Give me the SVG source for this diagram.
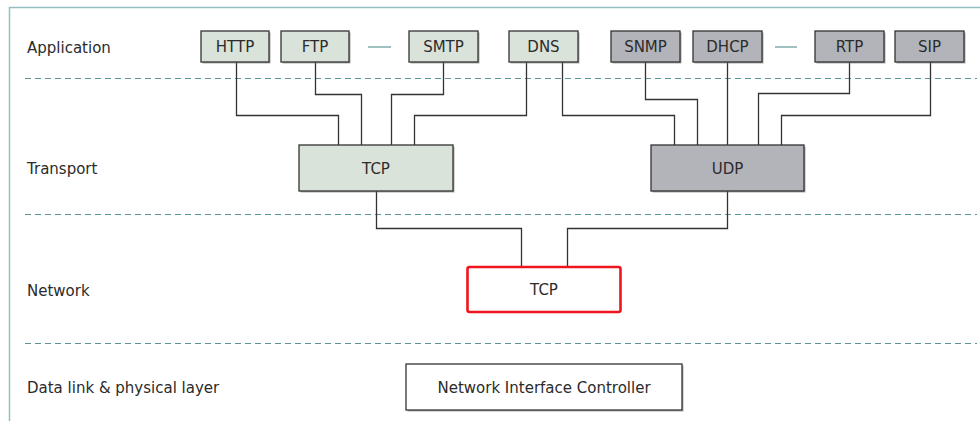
<svg xmlns="http://www.w3.org/2000/svg" width="980" height="421" viewBox="0 0 980 421">
<defs>
<style>
.lbl{font-family:"DejaVu Sans","Liberation Sans",sans-serif;font-size:15px;fill:#2b2b2b}
.bt{font-family:"DejaVu Sans","Liberation Sans",sans-serif;font-size:15px;fill:#2b2b2b;text-anchor:middle}
.g rect.b{fill:#dae3da;stroke:#333;stroke-width:1.3}
.y rect.b{fill:#b3b4ba;stroke:#333;stroke-width:1.3}
.w rect.b{fill:#fff;stroke:#333;stroke-width:1.3}
rect.s{fill:#777;opacity:0.6}
.sep{stroke:#5f9494;stroke-width:1.2;stroke-dasharray:6 4;fill:none}
.c path{stroke:#333;stroke-width:1.3;fill:none}
.dash{stroke:#6f9e9e;stroke-width:1.3}
</style>
</defs>
<rect width="980" height="421" fill="#fff"/>
<path d="M9.5 421 V7.5 H980" stroke="#94bfc0" stroke-width="1.5" fill="none"/>
<g id="separators">
<line class="sep" x1="25" y1="78.5" x2="977" y2="78.5"/>
<line class="sep" x1="25" y1="214.5" x2="977" y2="214.5"/>
<line class="sep" x1="25" y1="343.5" x2="977" y2="343.5"/>
</g>
<g id="layer-labels">
<text class="lbl" x="27" y="52.5">Application</text>
<text class="lbl" x="27" y="174">Transport</text>
<text class="lbl" x="27" y="296">Network</text>
<text class="lbl" x="27" y="393">Data link &amp; physical layer</text>
</g>
<g id="connectors" class="c">
<path d="M236.5 62 V115.5 H338.5 V145"/>
<path d="M315.5 62 V94.5 H361.5 V145"/>
<path d="M443.5 62 V94.5 H391.5 V145"/>
<path d="M526.5 62 V115.5 H414.5 V145"/>
<path d="M562.5 62 V115.5 H674.5 V145"/>
<path d="M645.5 62 V99.5 H697.5 V145"/>
<path d="M727.5 62 V145"/>
<path d="M849.5 62 V93.5 H758.5 V145"/>
<path d="M930.5 62 V115.5 H781.5 V145"/>
<path d="M376.5 191 V228.5 H521.5 V267"/>
<path d="M727.5 191 V228.5 H567.5 V267"/>
</g>
<g id="ellipsis">
<line class="dash" x1="368" y1="47" x2="391" y2="47"/>
<line class="dash" x1="775" y1="47" x2="797" y2="47"/>
</g>
<g id="HTTP" class="g"><rect class="s" x="202.5" y="32.5" width="68" height="31"/><rect class="b" x="201" y="31" width="68" height="31"/><text class="bt" x="235" y="52">HTTP</text></g>
<g id="FTP" class="g"><rect class="s" x="282.5" y="32.5" width="68" height="31"/><rect class="b" x="281" y="31" width="68" height="31"/><text class="bt" x="315" y="52">FTP</text></g>
<g id="SMTP" class="g"><rect class="s" x="410.5" y="32.5" width="69" height="31"/><rect class="b" x="409" y="31" width="69" height="31"/><text class="bt" x="443.5" y="52">SMTP</text></g>
<g id="DNS" class="g"><rect class="s" x="510.5" y="32.5" width="69" height="31"/><rect class="b" x="509" y="31" width="69" height="31"/><text class="bt" x="543.5" y="52">DNS</text></g>
<g id="SNMP" class="y"><rect class="s" x="612.5" y="32.5" width="69" height="31"/><rect class="b" x="611" y="31" width="69" height="31"/><text class="bt" x="645.5" y="52">SNMP</text></g>
<g id="DHCP" class="y"><rect class="s" x="694.5" y="32.5" width="69" height="31"/><rect class="b" x="693" y="31" width="69" height="31"/><text class="bt" x="727.5" y="52">DHCP</text></g>
<g id="RTP" class="y"><rect class="s" x="816.5" y="32.5" width="69" height="31"/><rect class="b" x="815" y="31" width="69" height="31"/><text class="bt" x="849.5" y="52">RTP</text></g>
<g id="SIP" class="y"><rect class="s" x="896.5" y="32.5" width="69" height="31"/><rect class="b" x="895" y="31" width="69" height="31"/><text class="bt" x="929.5" y="52">SIP</text></g>
<g id="TCP-transport" class="g"><rect class="s" x="300.5" y="146.5" width="154" height="46"/><rect class="b" x="299" y="145" width="154" height="46"/><text class="bt" x="376" y="173.5">TCP</text></g>
<g id="UDP" class="y"><rect class="s" x="652.5" y="146.5" width="153" height="46"/><rect class="b" x="651" y="145" width="153" height="46"/><text class="bt" x="727.5" y="173.5">UDP</text></g>
<g id="TCP-network"><rect x="467.5" y="267" width="153" height="45" rx="2" fill="#fff" stroke="#f0141e" stroke-width="2.6"/><text class="bt" x="544" y="295">TCP</text></g>
<g id="NIC" class="w"><rect class="s" x="407.5" y="365.5" width="276" height="46"/><rect class="b" x="406" y="364" width="276" height="46"/><text class="bt" x="544" y="392.5">Network Interface Controller</text></g>
</svg>
